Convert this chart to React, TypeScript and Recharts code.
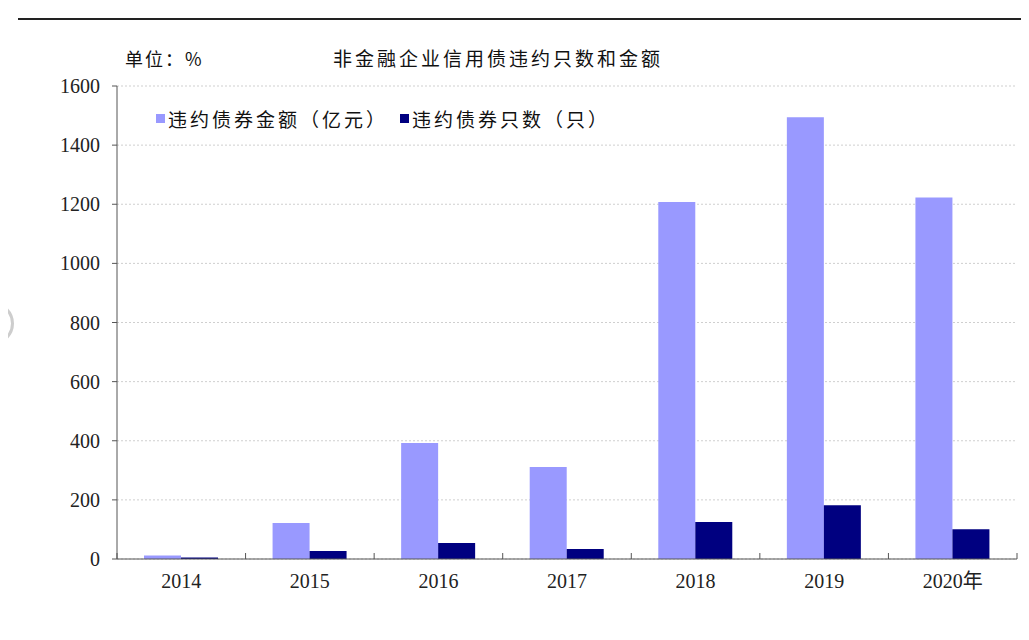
import React from 'react'
import { BarChart, Bar, XAxis, YAxis, CartesianGrid } from 'recharts'

const years = ['2014', '2015', '2016', '2017', '2018', '2019', '2020年']
const amount = [12, 122, 392, 311, 1208, 1494, 1223]
const count = [5, 27, 54, 34, 125, 182, 101]
const yTicks = [0, 200, 400, 600, 800, 1000, 1200, 1400, 1600]

const AMOUNT_NAME = '违约债券金额（亿元）'
const COUNT_NAME = '违约债券只数（只）'

const data = years.map((year, i) => ({
  year,
  amount: amount[i],
  count: count[i],
}))

const CJK = '"Noto Sans CJK SC", "Liberation Serif", serif'
const NUM = '"Liberation Serif", "Noto Sans CJK SC", serif'

const CHART_W = 1029
const CHART_H = 640
const X_H = 30
const MARGIN = { top: 86, right: 12, bottom: 81 - X_H, left: 0 }
const Y_W = 117
const band = (CHART_W - MARGIN.right - Y_W) / years.length
const axisY = CHART_H - MARGIN.bottom - X_H

const XTick = (props: any) => {
  const { x, payload, index } = props
  const half = band / 2
  return (
    <g>
      <line x1={x - half} x2={x - half} y1={axisY - 6} y2={axisY} stroke="#555" />
      {index === years.length - 1 && (
        <line x1={x + half} x2={x + half} y1={axisY - 6} y2={axisY} stroke="#555" />
      )}
      <text
        x={x}
        y={axisY + 29}
        textAnchor="middle"
        fontSize={20}
        fontFamily={NUM}
        fill="#222"
      >
        {payload.value}
      </text>
    </g>
  )
}

const Swatch = ({ color }: { color: string }) => (
  <span style={{ width: 9, height: 9, background: color, display: 'inline-block', marginRight: 3 }} />
)

export default function App() {
  return (
    <div style={{ position: 'relative', width: CHART_W, height: CHART_H, margin: -8, background: '#fff', overflow: 'hidden' }}>
      <div style={{ position: 'absolute', left: 18, right: 0, top: 18, height: 2, background: '#222' }} />
      <div style={{ position: 'absolute', left: -29, top: 302, width: 37, height: 37, borderRadius: '50%', border: '3px solid #cdcdcd' }} />
      <div style={{ position: 'absolute', left: 125, top: 45, fontFamily: CJK, fontSize: 18, color: '#111', letterSpacing: 2 }}>
        单位：%
      </div>
      <div style={{ position: 'absolute', left: 333, top: 44, fontFamily: CJK, fontSize: 19, color: '#111', letterSpacing: 3 }}>
        非金融企业信用债违约只数和金额
      </div>
      <div
        style={{
          position: 'absolute',
          left: 156,
          top: 105,
          zIndex: 2,
          display: 'flex',
          alignItems: 'center',
          fontFamily: CJK,
          fontSize: 19,
          color: '#111',
          letterSpacing: 3,
        }}
      >
        <Swatch color="#9999ff" />
        <span style={{ marginRight: 12 }}>{AMOUNT_NAME}</span>
        <Swatch color="#000080" />
        <span>{COUNT_NAME}</span>
      </div>
      <BarChart
        width={CHART_W}
        height={CHART_H}
        data={data}
        margin={MARGIN}
        barCategoryGap="21%"
        barGap={0}
      >
        <CartesianGrid vertical={false} stroke="#cfcfcf" strokeDasharray="2 2" />
        <XAxis
          dataKey="year"
          height={X_H}
          axisLine={{ stroke: '#555' }}
          tickLine={false}
          tick={<XTick />}
          interval={0}
        />
        <YAxis
          width={Y_W}
          domain={[0, 1600]}
          ticks={yTicks}
          axisLine={{ stroke: '#555' }}
          tickLine={{ stroke: '#555' }}
          tickSize={5}
          tickMargin={12}
          tick={{ fontSize: 20, fontFamily: NUM, fill: '#222' }}
        />
        <Bar dataKey="amount" name={AMOUNT_NAME} fill="#9999ff" isAnimationActive={false} />
        <Bar dataKey="count" name={COUNT_NAME} fill="#000080" isAnimationActive={false} />
      </BarChart>
    </div>
  )
}
